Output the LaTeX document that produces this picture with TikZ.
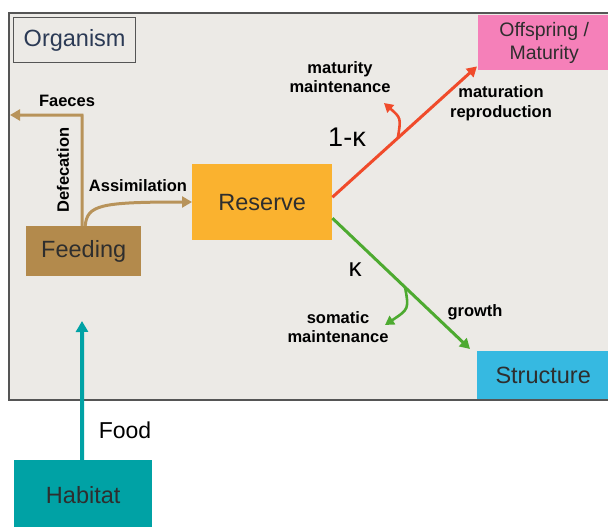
\documentclass[tikz,border=0pt]{standalone}
\usepackage{fontspec}
\setmainfont{Liberation Sans}
\usetikzlibrary{arrows.meta}
\definecolor{bggray}{HTML}{ECEAE6}
\definecolor{framegray}{HTML}{555555}
\definecolor{feedbrown}{HTML}{B38A4C}
\definecolor{arrbrown}{HTML}{B8935A}
\definecolor{resorange}{HTML}{FAB22F}
\definecolor{redarr}{HTML}{F04B2B}
\definecolor{offpink}{HTML}{F580B9}
\definecolor{greenarr}{HTML}{4DAA30}
\definecolor{strblue}{HTML}{36B9E1}
\definecolor{habteal}{HTML}{00A2A5}
\definecolor{txtdark}{HTML}{2E2E2E}
\definecolor{orgblue}{HTML}{2B3A55}
\begin{document}
\begin{tikzpicture}[x=1pt,y=-1pt,
  box/.style={draw=none,inner sep=0pt,anchor=north west,text=txtdark,
    font=\fontsize{23.5}{26}\selectfont},
  lbl/.style={inner sep=0pt,text=black,align=center,
    font=\bfseries\fontsize{16.5}{19.5}\selectfont},
  flow/.style={line width=3pt,-{Triangle[length=10pt,width=11pt]}},
  thinflow/.style={line width=2.6pt,-{Triangle[length=9pt,width=10pt]}}]
\useasboundingbox (0,0) rectangle (608,527);
\fill[white] (0,0) rectangle (608,527);
% organism frame
\draw[framegray,line width=1.2pt,fill=bggray] (9,13) rectangle (620,400);
\node[draw=framegray,line width=1.3pt,anchor=north west,minimum width=122pt,minimum height=45pt,inner sep=0pt,text=orgblue,font=\fontsize{23.5}{26}\selectfont] (org) at (13,17) {Organism};
% boxes
\node[box,fill=offpink,minimum width=132pt,minimum height=55pt,align=center,font=\fontsize{19.5}{23}\selectfont] (off) at (478,15) {Offspring /\\Maturity};
\node[box,fill=feedbrown,minimum width=115pt,minimum height=50pt] (feed) at (26,226) {Feeding};
\node[box,fill=resorange,minimum width=140pt,minimum height=76pt] (res) at (192,164) {Reserve};
\node[box,fill=strblue,minimum width=132pt,minimum height=48pt] (str) at (477,351) {Structure};
\node[box,fill=habteal,minimum width=138pt,minimum height=70pt] (hab) at (14,460) {Habitat};
% coordinates
\coordinate (faecesend) at (10,115);
\coordinate (faecescorner) at (82,115);
\coordinate (redbranch) at (398,137);
\coordinate (redbranchend) at (384,103);
\coordinate (greenbranch) at (405,287);
\coordinate (greenbranchend) at (385,325);
\coordinate (foodend) at (82,321);
% arrows
\draw[arrbrown,flow] ([xshift=-1.5pt]feed.north) -- (faecescorner) -- (faecesend);
\draw[arrbrown,flow] ([xshift=1.5pt]feed.north) .. controls (87,205) and (100,202) .. (res.west |- 0,202);
\draw[redarr,flow] ([yshift=5pt]res.east) -- ([xshift=-1pt,yshift=4pt]off.south west);
\draw[redarr,thinflow] (redbranch) .. controls (401,118) .. (redbranchend);
\draw[greenarr,flow] ([yshift=-16pt]res.east) -- ([xshift=-7pt,yshift=2pt]str.north west);
\draw[greenarr,thinflow] (greenbranch) .. controls (409,309) .. (greenbranchend);
\draw[habteal,line width=4pt,-{Triangle[length=11pt,width=12pt]}] ([xshift=-1pt]hab.north) -- (foodend);
% labels
\node[lbl] (lfaeces) at (67,101) {Faeces};
\node[lbl,rotate=90] (ldef) at (63,170) {Defecation};
\node[lbl] (lassim) at (138,186) {Assimilation};
\node[lbl] (lmatm) at (340,77) {maturity\\maintenance};
\node[lbl,font=\fontsize{27}{30}\selectfont] (lonek) at (347,137) {1-κ};
\node[lbl] (lmatr) at (501,103) {maturation\\reproduction};
\node[lbl,font=\fontsize{26}{30}\selectfont] (lk) at (355,270) {κ};
\node[lbl] (lsom) at (338,327) {somatic\\maintenance};
\node[lbl] (lgrowth) at (475,312) {growth};
\node[lbl,font=\fontsize{23}{26}\selectfont] (lfood) at (125,430) {Food};
\end{tikzpicture}
\end{document}
